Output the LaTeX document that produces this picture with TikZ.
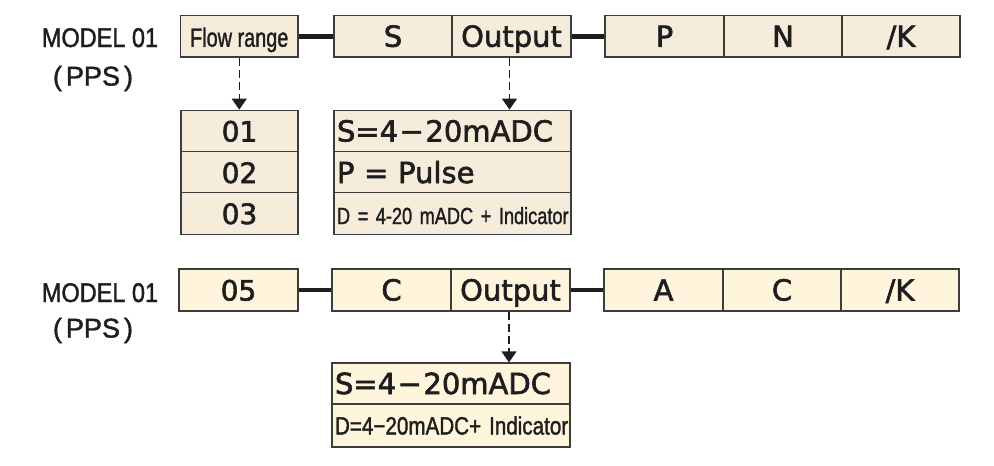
\documentclass[tikz,border=0pt]{standalone}
\usepackage{fontspec}
\usepackage{graphicx}
\setmainfont{DejaVu Sans}[FakeBold=2]
\newfontfamily\lib{Liberation Sans}[FakeBold=1.6]
\usetikzlibrary{arrows.meta}
\definecolor{fillA}{HTML}{F6ECDB}
\definecolor{fillB}{HTML}{FFF4DC}
\definecolor{edgec}{HTML}{3C3C3C}
\definecolor{ink}{HTML}{1E1E1E}
\tikzset{
  cell/.style={draw=edgec, line width=1.2pt, rectangle, inner sep=0pt,
    text=ink, text height=21pt, text depth=0pt,
    font=\fontsize{29}{29}\selectfont},
  topcell/.style={cell, fill=fillA, minimum height=41.5pt},
  botcell/.style={cell, fill=fillB, minimum height=42pt},
  leftcell/.style={align=left, inner xsep=3pt},
  link/.style={line width=4.8pt, ink},
  drop/.style={line width=1.2pt, ink, dash pattern=on 8pt off 4pt,
    -{Triangle[width=15pt,length=11pt]}},
  modeltxt/.style={inner sep=0pt, text=ink, text height=19pt, text depth=0pt,
    font=\lib\fontsize{27}{27}\selectfont}
}
\begin{document}
\begin{tikzpicture}[x=1pt,y=-1pt]
\useasboundingbox (0,0) rectangle (994,466);

% ---------- top model ----------
\node[modeltxt] (m1) at (100,37.5) {\scalebox{0.87}[1]{MODEL 01}};
\node[modeltxt] (p1) at (93,76) {(\kern4pt PPS\kern4pt)};

\node[topcell, minimum width=117.5pt] (flow) at (239.25,36.25)
  {\lib\fontsize{26.5}{26.5}\selectfont\scalebox{0.75}[1]{Flow range}};
\node[topcell, minimum width=118pt] (s) at (393,36.25) {S};
\node[topcell, minimum width=119pt] (out) at (511.5,36.25) {Output};
\node[topcell, minimum width=119pt] (p) at (664.5,36.25) {P};
\node[topcell, minimum width=118pt] (n) at (783,36.25) {N};
\node[topcell, minimum width=118pt] (k) at (901,36.25) {/K};

\draw[link] (flow.east) -- (s.west);
\draw[link] (out.east) -- (p.west);

% flow range options
\node[topcell, minimum width=117pt, font=\fontsize{28}{28}\selectfont] (r1) at (239.5,131) {01};
\node[topcell, minimum width=117pt, font=\fontsize{28}{28}\selectfont] (r2) at (239.5,172.5) {02};
\node[topcell, minimum width=117pt, font=\fontsize{28}{28}\selectfont] (r3) at (239.5,213.5) {03};

% output options
\node[topcell, leftcell, text width=231pt] (o1) at (452.5,131) {S=4\kern1.5pt−\kern1.5pt20mADC};
\node[topcell, leftcell, text width=231pt] (o2) at (452.5,172.5) {P = Pulse};
\node[topcell, leftcell, text width=231pt] (o3) at (452.5,213.5)
  {\lib\fontsize{23.3}{23.3}\selectfont\scalebox{0.78}[1]{D = 4-20 mADC + Indicator}};

\draw[drop] (flow.south) -- (flow.south |- r1.north);
\draw[drop] ([xshift=-2pt]out.south) -- ([xshift=-2pt]out.south |- o1.north);

% ---------- bottom model ----------
\node[modeltxt] (m2) at (100,292.5) {\scalebox{0.87}[1]{MODEL 01}};
\node[modeltxt] (p2) at (93,328) {(\kern4pt PPS\kern4pt)};

\node[botcell, minimum width=119pt, font=\fontsize{28}{28}\selectfont] (c05) at (238.5,290) {05};
\node[botcell, minimum width=119pt] (cc) at (391.5,290) {C};
\node[botcell, minimum width=119pt] (out2) at (510.5,290) {Output};
\node[botcell, minimum width=119pt] (ca) at (663.5,290) {A};
\node[botcell, minimum width=118pt] (cc2) at (782,290) {C};
\node[botcell, minimum width=118pt] (ck) at (900,290) {/K};

\draw[link] (c05.east) -- (cc.west);
\draw[link] (out2.east) -- (ca.west);

\node[botcell, leftcell, text width=232pt, minimum height=41pt] (q1) at (451,383.5) {S=4\kern1.5pt−\kern1.5pt20mADC};
\node[botcell, leftcell, text width=232pt, minimum height=43pt, text height=18pt] (q2) at (451,425.5)
  {\lib\fontsize{25}{25}\selectfont\scalebox{0.825}[1]{D=4−20mADC+ Indicator}};

\draw[drop] ([xshift=-1.5pt]out2.south) -- ([xshift=-1.5pt]out2.south |- q1.north);
\end{tikzpicture}
\end{document}
